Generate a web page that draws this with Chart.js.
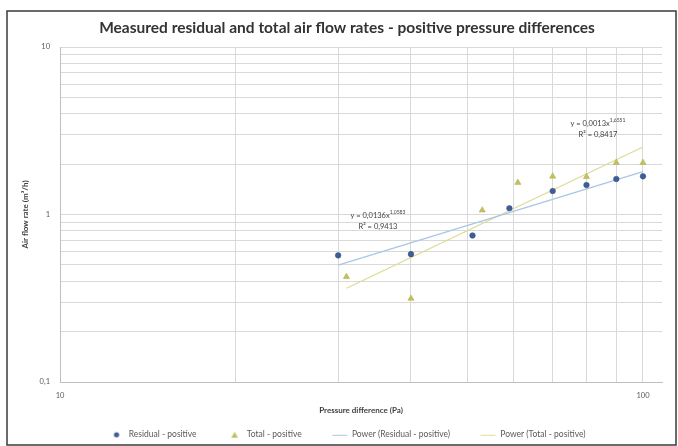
<!DOCTYPE html>
<html>
<head>
<meta charset="utf-8">
<script src="https://cdn.jsdelivr.net/npm/chart.js@4.4.1/dist/chart.umd.min.js"></script>
<style>
  html, body { margin: 0; padding: 0; background: #fff; }
  #wrap { width: 678px; height: 446px; }
</style>
</head>
<body>
<div id="wrap"><canvas id="c" width="678" height="446"></canvas></div>
<script>
/* ============ Data ============ */
// Residual - positive (pressure difference Pa, air flow m3/h)
const RESIDUAL_DP = [30, 40, 51, 59, 70, 80, 90, 100];
const RESIDUAL_Q = [0.57, 0.58, 0.75, 1.09, 1.38, 1.50, 1.63, 1.69];
// Total - positive
const TOTAL_DP = [31, 40, 53, 61, 70, 80, 90, 100];
const TOTAL_Q = [0.425, 0.315, 1.06, 1.55, 1.69, 1.68, 2.04, 2.04];

const X_TICKS = [10, 20, 30, 40, 50, 60, 70, 80, 90, 100];
const X_LABELS = {"10": "10", "100": "100"};
const Y_TICKS = [0.1, 0.2, 0.3, 0.4, 0.5, 0.6, 0.7, 0.8, 0.9, 1, 2, 3, 4, 5, 6, 7, 8, 9, 10];
const Y_LABELS = {"0.1": "0,1", "1": "1", "10": "10"};

const SERIES_NAMES = ["Residual - positive", "Total - positive",
    "Power (Residual - positive)", "Power (Total - positive)"];
const EQ_RESIDUAL = ["y = 0,0136x", "1,0583", "R² = 0,9413"];
const EQ_TOTAL = ["y = 0,0013x", "1,6551", "R² = 0,8417"];

/* ============ Style ============ */
const FONT = 'Lato, "Liberation Sans", sans-serif';
const BLUE = "#3f5d96";
const OLIVE = "#c4c05c";
const BLUE_TREND = "#a8c6e6";
const OLIVE_TREND = "#dcdc90";

/* ============ Helpers ============ */
// least squares on ln/ln, same as Excel power trendline
function powerFit(xs, ys) {
    const lx = xs.map(Math.log), ly = ys.map(Math.log);
    const n = xs.length;
    const mx = lx.reduce((a, b) => a + b) / n;
    const my = ly.reduce((a, b) => a + b) / n;
    let sxy = 0, sxx = 0;
    for (let i = 0; i < n; i++) {
        sxy += (lx[i] - mx) * (ly[i] - my);
        sxx += (lx[i] - mx) ** 2;
    }
    const b = sxy / sxx;
    const a = Math.exp(my - b * mx);
    return x => a * Math.pow(x, b);
}

function trendPoints(xs, ys) {
    const f = powerFit(xs, ys);
    const lo = Math.min(...xs), hi = Math.max(...xs);
    return [{x: lo, y: f(lo)}, {x: hi, y: f(hi)}];
}

const pts = (xs, ys) => xs.map((x, i) => ({x, y: ys[i]}));

function glyph(draw) {
    const c = document.createElement("canvas");
    c.width = 16;
    c.height = 8;
    draw(c.getContext("2d"));
    return c;
}

const LEGEND_GLYPHS = [
    glyph(g => { g.fillStyle = BLUE; g.beginPath(); g.arc(8, 4, 2.6, 0, Math.PI * 2); g.fill(); }),
    glyph(g => { g.fillStyle = OLIVE; g.beginPath(); g.moveTo(8, 1); g.lineTo(11.3, 7); g.lineTo(4.7, 7); g.closePath(); g.fill(); }),
    glyph(g => { g.strokeStyle = BLUE_TREND; g.lineWidth = 1; g.beginPath(); g.moveTo(0.5, 4.5); g.lineTo(15.5, 4.5); g.stroke(); }),
    glyph(g => { g.strokeStyle = OLIVE_TREND; g.lineWidth = 1; g.beginPath(); g.moveTo(0.5, 4.5); g.lineTo(15.5, 4.5); g.stroke(); }),
];

/* ============ Decorations: frame + trendline equations ============ */
function drawEquation(chart, eq, ax, ay) {
    const {ctx, scales} = chart;
    const px = scales.x.getPixelForValue(ax);
    const py = scales.y.getPixelForValue(ay);
    ctx.save();
    ctx.fillStyle = "#404040";
    ctx.textBaseline = "middle";
    ctx.textAlign = "left";
    ctx.font = `7.5px ${FONT}`;
    const w1 = ctx.measureText(eq[0]).width;
    ctx.font = `5px ${FONT}`;
    const w2 = ctx.measureText(eq[1]).width;
    let x0 = px - (w1 + w2) / 2;
    ctx.font = `7.5px ${FONT}`;
    ctx.fillText(eq[0], x0, py);
    ctx.font = `5px ${FONT}`;
    ctx.fillText(eq[1], x0 + w1, py - 3);
    ctx.font = `7.5px ${FONT}`;
    ctx.textAlign = "center";
    ctx.fillText(eq[2], px, py + 11);
    ctx.restore();
}

const decor = {
    id: "decor",
    beforeDraw(chart) {
        const ctx = chart.ctx;
        ctx.save();
        ctx.fillStyle = "#fff";
        ctx.fillRect(0, 0, chart.width, chart.height);
        ctx.strokeStyle = "#3a3a3a";
        ctx.lineWidth = 1.5;
        ctx.strokeRect(7, 11, chart.width - 9, chart.height - 12);
        ctx.restore();
    },
    afterDatasetsDraw(chart) {
        drawEquation(chart, EQ_RESIDUAL, 35.1, 0.985);
        drawEquation(chart, EQ_TOTAL, 83.7, 3.5);
    }
};

/* ============ Chart ============ */
new Chart(document.getElementById("c"), {
    type: "scatter",
    data: {
        datasets: [
            {
                label: SERIES_NAMES[0],
                data: pts(RESIDUAL_DP, RESIDUAL_Q),
                pointStyle: "circle",
                pointRadius: 2.8,
                backgroundColor: BLUE,
                borderColor: "#34507f",
                borderWidth: 0.5,
                order: 0
            },
            {
                label: SERIES_NAMES[1],
                data: pts(TOTAL_DP, TOTAL_Q),
                pointStyle: "triangle",
                pointRadius: 3.6,
                backgroundColor: OLIVE,
                borderColor: "#aead4e",
                borderWidth: 0.5,
                order: 0
            },
            {
                label: SERIES_NAMES[2],
                data: trendPoints(RESIDUAL_DP, RESIDUAL_Q),
                showLine: true,
                pointRadius: 0,
                borderColor: BLUE_TREND,
                backgroundColor: BLUE_TREND,
                borderWidth: 1.2,
                order: 1
            },
            {
                label: SERIES_NAMES[3],
                data: trendPoints(TOTAL_DP, TOTAL_Q),
                showLine: true,
                pointRadius: 0,
                borderColor: OLIVE_TREND,
                backgroundColor: OLIVE_TREND,
                borderWidth: 1.2,
                order: 1
            }
        ]
    },
    options: {
        responsive: false,
        animation: false,
        // left padding keeps title/legend centred like the original frame
        layout: {padding: {left: 32, top: 0, right: 16, bottom: -3}},
        plugins: {
            tooltip: {enabled: false},
            title: {
                display: true,
                text: "Measured residual and total air flow rates - positive pressure differences",
                color: "#333333",
                font: {family: FONT, size: 15.5, weight: "bold"},
                padding: {top: 19, bottom: 9.4}
            },
            legend: {
                position: "bottom",
                labels: {
                    usePointStyle: true,
                    pointStyleWidth: 16,
                    boxHeight: 8.5,
                    padding: 30,
                    color: "#595959",
                    font: {family: FONT, size: 8.5},
                    generateLabels: chart =>
                        Chart.defaults.plugins.legend.labels.generateLabels(chart)
                            .map((it, i) => ({...it, pointStyle: LEGEND_GLYPHS[i]}))
                }
            }
        },
        scales: {
            x: {
                type: "logarithmic",
                min: 10,
                max: 107.8,
                afterBuildTicks: s => { s.ticks = X_TICKS.map(v => ({value: v})); },
                afterFit: s => { s.height = 18.5; },
                ticks: {
                    autoSkip: false,
                    maxRotation: 0,
                    padding: 9,
                    color: "#595959",
                    font: {family: FONT, size: 7.5},
                    callback: v => X_LABELS[String(v)] ?? ""
                },
                grid: {color: "#d9d9d9", drawTicks: false},
                border: {color: "#bfbfbf"},
                title: {
                    display: true,
                    text: "Pressure difference (Pa)",
                    color: "#404040",
                    font: {family: FONT, size: 8, weight: "bold"},
                    padding: {top: 0, bottom: -14.3}
                }
            },
            y: {
                type: "logarithmic",
                min: 0.1,
                max: 10,
                afterBuildTicks: s => { s.ticks = Y_TICKS.map(v => ({value: v})); },
                afterFit: s => { s.width = 28; },
                ticks: {
                    autoSkip: false,
                    padding: 10,
                    color: "#595959",
                    font: {family: FONT, size: 7.5},
                    callback: v => Y_LABELS[String(v)] ?? ""
                },
                grid: {color: "#d9d9d9", drawTicks: false},
                border: {color: "#bfbfbf"},
                title: {
                    display: true,
                    text: "Air flow rate (m³/h)",
                    color: "#404040",
                    font: {family: FONT, size: 8, weight: "bold"},
                    padding: {top: -11, bottom: 0}
                }
            }
        }
    },
    plugins: [decor]
});
</script>
</body>
</html>
